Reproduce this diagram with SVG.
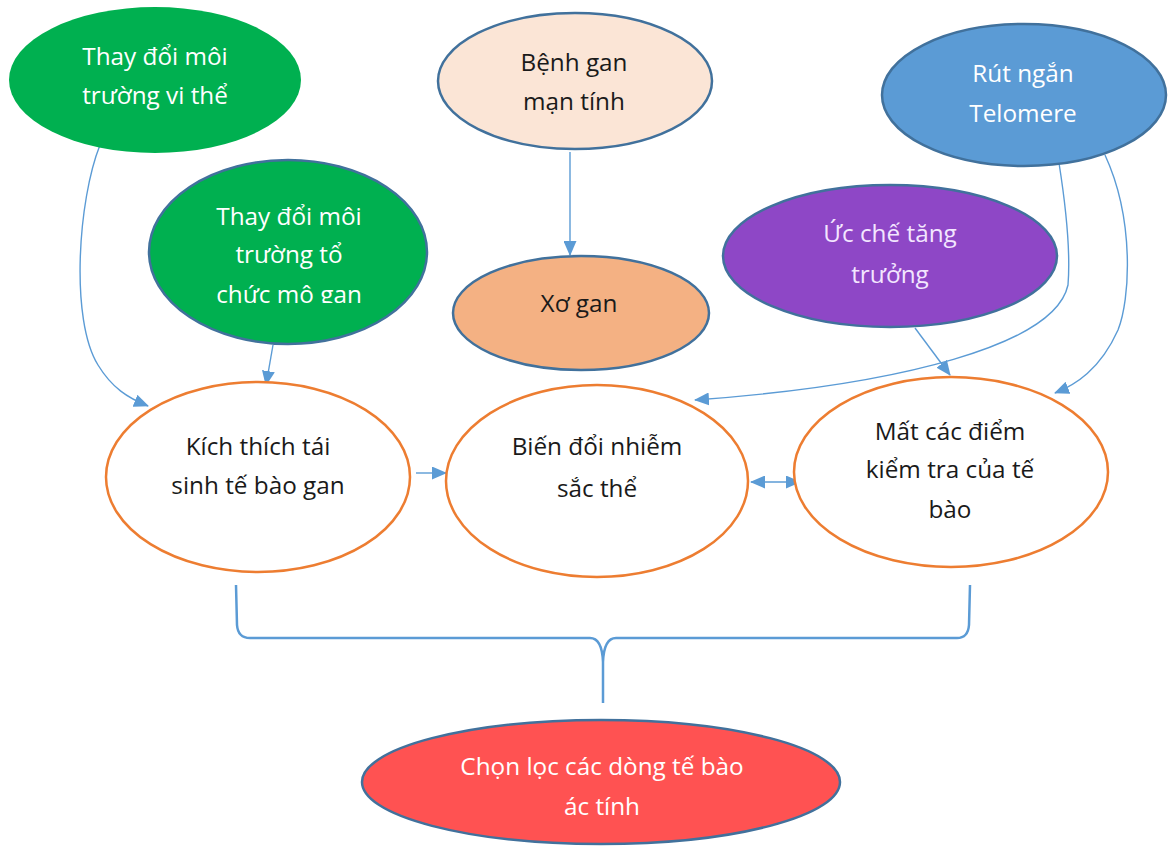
<svg xmlns="http://www.w3.org/2000/svg" width="1168" height="847" viewBox="0 0 1168 847">
<style>
text{font-family:"Open Sans","Noto Sans",sans-serif;font-size:24.3px;text-anchor:middle}
.w{fill:#ffffff}.k{fill:#1a1a1a}.p{fill:#f3e6ff}
.bd{stroke:#41719c;stroke-width:2.5}
.or{fill:#ffffff;stroke:#ed7d31;stroke-width:2.5}
.c{fill:none;stroke:#5b9bd5;stroke-width:1.4}
</style>
<defs>
<marker id="ah" markerUnits="userSpaceOnUse" markerWidth="15" markerHeight="13" refX="14" refY="6.5" orient="auto-start-reverse" viewBox="0 0 15 13">
<path d="M0,0 L15,6.5 L0,13 Z" fill="#5b9bd5"/>
</marker>
<clipPath id="cl2"><rect x="150" y="160" width="280" height="143"/></clipPath>
</defs>
<rect width="1168" height="847" fill="#ffffff"/>
<g id="connectors">
<path class="c" d="M100,145 C78,200 70,320 98,365 C112,388 128,398 148,406" marker-end="url(#ah)"/>
<path class="c" d="M273,345 L266,385" marker-end="url(#ah)"/>
<path class="c" d="M570,152 L570,255" marker-end="url(#ah)"/>
<path class="c" d="M1059,163 C1068,220 1070,260 1068,285 C1055,345 900,385 695,400" marker-end="url(#ah)"/>
<path class="c" d="M1105,155 C1135,220 1130,300 1118,330 C1100,370 1075,385 1055,393" marker-end="url(#ah)"/>
<path class="c" d="M915,328 L950,375" marker-end="url(#ah)"/>
<path class="c" d="M416,473 L446,473" marker-end="url(#ah)"/>
<path class="c" d="M751,482 L800,482" marker-start="url(#ah)" marker-end="url(#ah)"/>
<path d="M236,585 L237,625 Q238,638 250,638 L590,638 Q602,638 603,662 L603,703 M603,662 Q604,638 616,638 L957,638 Q968,638 969,625 L970,585" fill="none" stroke="#5b9bd5" stroke-width="2.5"/>
</g>
<g id="n1">
<ellipse cx="155" cy="80" rx="146" ry="73" fill="#00b050"/>
<text class="w" x="155" y="65">Thay đổi môi</text>
<text class="w" x="155" y="104">trường vi thể</text>
</g>
<g id="n2">
<ellipse cx="288" cy="252" rx="139" ry="92" fill="#00b050" class="bd"/>
<g clip-path="url(#cl2)">
<text class="w" x="289" y="225">Thay đổi môi</text>
<text class="w" x="289" y="263">trường tổ</text>
<text class="w" x="289" y="303">chức mô gan</text>
</g>
</g>
<g id="n3">
<ellipse cx="575" cy="81" rx="137" ry="68" fill="#fbe5d6" class="bd"/>
<text class="k" x="574" y="71">Bệnh gan</text>
<text class="k" x="574" y="110">mạn tính</text>
</g>
<g id="n4">
<ellipse cx="581" cy="313" rx="128" ry="57" fill="#f4b183" class="bd"/>
<text class="k" x="579" y="312">Xơ gan</text>
</g>
<g id="n5">
<ellipse cx="1024" cy="95" rx="142" ry="71" fill="#5b9bd5" class="bd"/>
<text class="w" x="1023" y="82">Rút ngắn</text>
<text class="w" x="1023" y="122">Telomere</text>
</g>
<g id="n6">
<ellipse cx="890" cy="256" rx="167" ry="71" fill="#8e47c6" class="bd"/>
<text class="p" x="890" y="242">Ức chế tăng</text>
<text class="p" x="890" y="283">trưởng</text>
</g>
<g id="n7">
<ellipse cx="258" cy="477" rx="152" ry="95" class="or"/>
<text class="k" x="258" y="455">Kích thích tái</text>
<text class="k" x="258" y="494">sinh tế bào gan</text>
</g>
<g id="n8">
<ellipse cx="597" cy="481" rx="151" ry="96" class="or"/>
<text class="k" x="597" y="455">Biến đổi nhiễm</text>
<text class="k" x="597" y="497">sắc thể</text>
</g>
<g id="n9">
<ellipse cx="951" cy="472" rx="157" ry="95" class="or"/>
<text class="k" x="950" y="440">Mất các điểm</text>
<text class="k" x="950" y="478">kiểm tra của tế</text>
<text class="k" x="950" y="518">bào</text>
</g>
<g id="n10">
<ellipse cx="601" cy="782" rx="239" ry="62" fill="#ff5252" class="bd"/>
<text class="w" x="602" y="775">Chọn lọc các dòng tế bào</text>
<text class="w" x="602" y="815">ác tính</text>
</g>
</svg>
